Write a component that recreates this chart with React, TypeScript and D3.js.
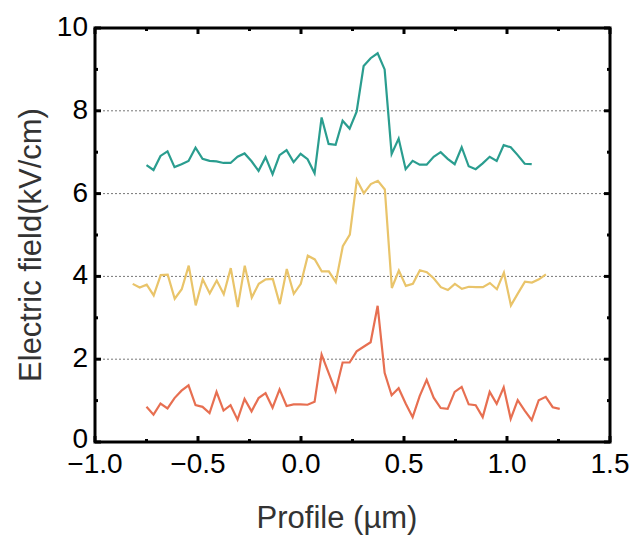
import React from 'react';
import * as d3 from 'd3';

// sampling grid of each profile (µm)
const greenStart = -0.75;
const redStart = -0.75;
const yellowStart = -0.817;
const sampleStep = 0.034;

const greenValues = [
  6.69, 6.57, 6.91, 7.02, 6.64, 6.71, 6.79, 7.11, 6.84, 6.79,
  6.78, 6.74, 6.74, 6.89, 6.97, 6.78, 6.55, 6.88, 6.47, 6.93,
  7.05, 6.76, 6.96, 6.83, 6.49, 7.84, 7.2, 7.18, 7.76, 7.57,
  7.98, 9.08, 9.27, 9.39, 9.0, 6.96, 7.33, 6.59, 6.79, 6.7,
  6.7, 6.89, 7.0, 6.84, 6.71, 7.12, 6.66, 6.59, 6.73, 6.89,
  6.79, 7.17, 7.12, 6.93, 6.72, 6.71,
];

const yellowValues = [
  3.82, 3.73, 3.8, 3.54, 4.03, 4.04, 3.46, 3.69, 4.26, 3.3,
  3.93, 3.59, 3.9, 3.57, 4.2, 3.26, 4.26, 3.49, 3.82, 3.93,
  3.94, 3.33, 4.18, 3.58, 3.82, 4.5, 4.41, 4.12, 4.12, 3.86,
  4.73, 5.01, 6.33, 6.01, 6.23, 6.31, 6.1, 3.72, 4.14, 3.77,
  3.82, 4.15, 4.1, 3.95, 3.74, 3.67, 3.82, 3.7, 3.75, 3.74,
  3.74, 3.84, 3.69, 4.09, 3.3, 3.59, 3.87, 3.85, 3.93, 4.05,
];

const redValues = [
  0.85, 0.66, 0.93, 0.81, 1.06, 1.24, 1.37, 0.89, 0.85, 0.7,
  1.21, 0.76, 0.89, 0.54, 1.04, 0.74, 1.06, 1.18, 0.83, 1.27,
  0.87, 0.91, 0.91, 0.9, 0.97, 2.11, 1.67, 1.23, 1.92, 1.92,
  2.19, 2.3, 2.41, 3.29, 1.67, 1.13, 1.3, 0.93, 0.6, 1.11,
  1.5, 1.07, 0.82, 0.8, 1.21, 1.33, 0.91, 0.89, 0.6, 1.21,
  0.92, 1.32, 0.56, 1.01, 0.76, 0.53, 1.01, 1.09, 0.84, 0.8,
];

const xTicks = [-1.0, -0.5, 0.0, 0.5, 1.0, 1.5];
const xMinorTicks = [-0.75, -0.25, 0.25, 0.75, 1.25];
const yTicks = [0, 2, 4, 6, 8, 10];
const yMinorTicks = [1, 3, 5, 7, 9];
const gridValues = [2, 4, 6, 8];

const series = [
  { name: 'green', start: greenStart, values: greenValues, color: '#2a9d8f' },
  { name: 'yellow', start: yellowStart, values: yellowValues, color: '#e9c46a' },
  { name: 'red', start: redStart, values: redValues, color: '#e76f51' },
];

const W = 637;
const H = 538;
const margin = { top: 28, right: 27, bottom: 96, left: 95 };
const font = '"Liberation Sans", Arial, sans-serif';

export default function App() {
  const x = d3.scaleLinear().domain([-1.0, 1.5]).range([margin.left, W - margin.right]);
  const y = d3.scaleLinear().domain([0, 10]).range([H - margin.bottom, margin.top]);

  const [x0, x1] = x.range();
  const [y0, y1] = y.range();
  const major = 6;
  const minor = 3;

  return (
    <svg
      width={W}
      height={H}
      style={{ position: 'absolute', left: 0, top: 0, background: '#fff' }}
      fontFamily={font}
    >
      {/* grid */}
      {gridValues.map((g) => (
        <line
          key={'g' + g}
          x1={x0}
          x2={x1}
          y1={y(g)}
          y2={y(g)}
          stroke="#777"
          strokeWidth={1}
          strokeDasharray="2,2"
        />
      ))}

      {/* profiles */}
      {series.map((s) => {
        const path = d3
          .line<number>()
          .x((_, i) => x(s.start + i * sampleStep))
          .y((d) => y(d))(s.values);
        return (
          <path
            key={s.name}
            d={path || ''}
            fill="none"
            stroke={s.color}
            strokeWidth={2.2}
            strokeLinejoin="miter"
          />
        );
      })}

      {/* ticks, all four sides pointing inward */}
      {xTicks.map((t) => (
        <g key={'xt' + t}>
          <line x1={x(t)} x2={x(t)} y1={y0} y2={y0 - major} stroke="#000" strokeWidth={3} />
          <line x1={x(t)} x2={x(t)} y1={y1} y2={y1 + major} stroke="#000" strokeWidth={3} />
        </g>
      ))}
      {xMinorTicks.map((t) => (
        <g key={'xm' + t}>
          <line x1={x(t)} x2={x(t)} y1={y0} y2={y0 - minor} stroke="#000" strokeWidth={3} />
          <line x1={x(t)} x2={x(t)} y1={y1} y2={y1 + minor} stroke="#000" strokeWidth={3} />
        </g>
      ))}
      {yTicks.map((t) => (
        <g key={'yt' + t}>
          <line x1={x0} x2={x0 + major} y1={y(t)} y2={y(t)} stroke="#000" strokeWidth={3} />
          <line x1={x1} x2={x1 - major} y1={y(t)} y2={y(t)} stroke="#000" strokeWidth={3} />
        </g>
      ))}
      {yMinorTicks.map((t) => (
        <g key={'ym' + t}>
          <line x1={x0} x2={x0 + minor} y1={y(t)} y2={y(t)} stroke="#000" strokeWidth={3} />
          <line x1={x1} x2={x1 - minor} y1={y(t)} y2={y(t)} stroke="#000" strokeWidth={3} />
        </g>
      ))}

      {/* frame */}
      <rect
        x={x0}
        y={y1}
        width={x1 - x0}
        height={y0 - y1}
        fill="none"
        stroke="#000"
        strokeWidth={3}
      />

      {/* tick labels */}
      {xTicks.map((t) => (
        <text
          key={'xl' + t}
          x={x(t)}
          y={y0 + 31}
          textAnchor="middle"
          fontSize={28}
          fill="#000"
        >
          {d3.format('.1f')(t).replace('-', '\u2212')}
        </text>
      ))}
      {yTicks.map((t) => (
        <text
          key={'yl' + t}
          x={x0 - 7}
          y={y(t) + (t === 0 ? 6 : 8)}
          textAnchor="end"
          fontSize={28}
          fill="#000"
        >
          {t}
        </text>
      ))}

      {/* axis titles */}
      <text x={337} y={528} textAnchor="middle" fontSize={31} fill="#333">
        Profile (µm)
      </text>
      <text
        transform={`translate(41,${(y0 + y1) / 2 + 10}) rotate(-90)`}
        textAnchor="middle"
        fontSize={31}
        fill="#333"
      >
        Electric field(kV/cm)
      </text>
    </svg>
  );
}
